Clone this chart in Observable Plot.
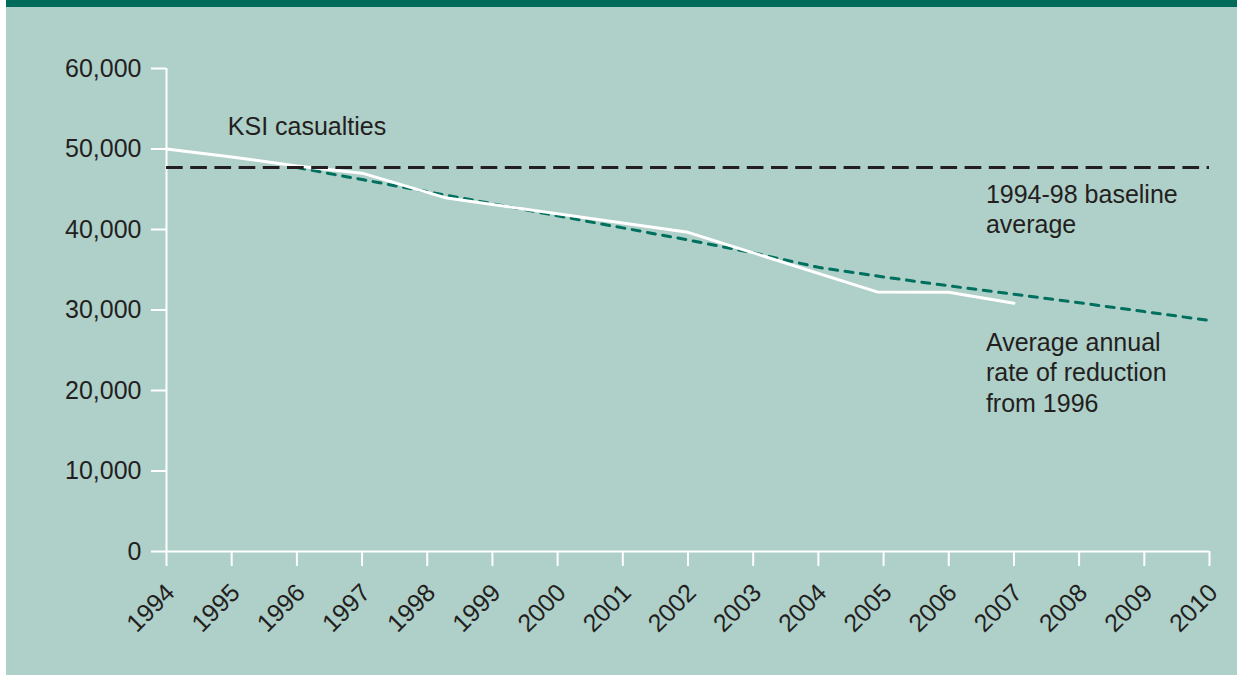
<!DOCTYPE html>
<html>
<head>
<meta charset="utf-8">
<script src="https://cdn.jsdelivr.net/npm/d3@7"></script>
<script src="https://cdn.jsdelivr.net/npm/@observablehq/plot@0.6"></script>
<style>
  html, body { margin: 0; padding: 0; background: #ffffff; }
  #wrap { margin-left: 6px; width: 1231px; height: 675px; background: #afcfc9; overflow: hidden; }
  #topbar { height: 7px; background: #006b5b; }
  svg { display: block; }
</style>
</head>
<body>
<div id="wrap"><div id="topbar"></div><div id="chart"></div></div>
<script>
// Tick labels
const years = [1994, 1995, 1996, 1997, 1998, 1999, 2000, 2001, 2002, 2003, 2004, 2005, 2006, 2007, 2008, 2009, 2010];
const yTicks = [0, 10000, 20000, 30000, 40000, 50000, 60000];

// KSI casualties (white line)
const ksiYears = [1994, 1995, 1996, 1997, 1998.3, 2002, 2004.9, 2006, 2007];
const ksiValues = [50000, 49000, 47900, 47000, 43900, 39650, 32250, 32200, 30850];

// Average annual rate of reduction from 1996 (green dotted)
const trendYears = [1996, 1997, 1998, 1999, 2000, 2001, 2002, 2003, 2004, 2005, 2006, 2007, 2008, 2009, 2010];
const trendValues = [47700, 46200, 44700, 43200, 41700, 40200, 38700, 37100, 35300, 34100, 33000, 31950, 30900, 29800, 28700];

// 1994-98 baseline average (black dashed)
const baseline = 47700;

const ksi = ksiYears.map((y, i) => ({year: y, value: ksiValues[i]}));
const trend = trendYears.map((y, i) => ({year: y, value: trendValues[i]}));

const ink = "#231f20";
const font = "'Liberation Sans', Arial, Helvetica, sans-serif";
const fs = 25;

const chart = Plot.plot({
  width: 1231,
  height: 668,
  marginLeft: 160,
  marginRight: 28,
  marginTop: 61,
  marginBottom: 124,
  style: {background: "transparent", fontSize: fs + "px", fontFamily: font, color: ink, overflow: "visible"},
  x: {domain: [1994, 2010]},
  y: {domain: [0, 60000]},
  marks: [
    Plot.ruleX([1994], {y1: 0, y2: 60000, stroke: "white", strokeWidth: 2}),
    Plot.ruleY([0], {x1: 1994, x2: 2010, stroke: "white", strokeWidth: 2}),
    Plot.axisY({ticks: yTicks, tickSize: 15, tickPadding: 10, tickFormat: d3.format(","), stroke: "white", strokeWidth: 2, fill: ink, fontSize: fs, label: null}),
    Plot.axisX({ticks: years, tickSize: 15, text: null, stroke: "white", strokeWidth: 2, label: null}),
    Plot.axisX({ticks: years, tickSize: 0, tickPadding: 29, dx: 4, dy: 8, tickRotate: -45, tickFormat: d => String(d), fill: ink, fontSize: fs, label: null}),
    Plot.line(trend, {x: "year", y: "value", stroke: "#00705e", strokeWidth: 3, strokeDasharray: "8,7.5"}),
    Plot.line(ksi, {x: "year", y: "value", stroke: "white", strokeWidth: 3}),
    Plot.ruleY([baseline], {x1: 1994, x2: 2010, stroke: ink, strokeWidth: 3, strokeDasharray: "16.7,7.5"}),
    Plot.text(["KSI casualties"], {x: 1994.94, y: 51680, text: d => d, textAnchor: "start", lineAnchor: "bottom", fill: ink, fontSize: fs}),
    Plot.text(["1994-98 baseline\naverage"], {x: 2006.57, y: 39540, text: d => d, textAnchor: "start", lineAnchor: "bottom", lineHeight: 1.2, fill: ink, fontSize: fs}),
    Plot.text(["Average annual\nrate of reduction\nfrom 1996"], {x: 2006.57, y: 17390, text: d => d, textAnchor: "start", lineAnchor: "bottom", lineHeight: 1.22, fill: ink, fontSize: fs})
  ]
});
document.getElementById("chart").appendChild(chart);
</script>
</body>
</html>
